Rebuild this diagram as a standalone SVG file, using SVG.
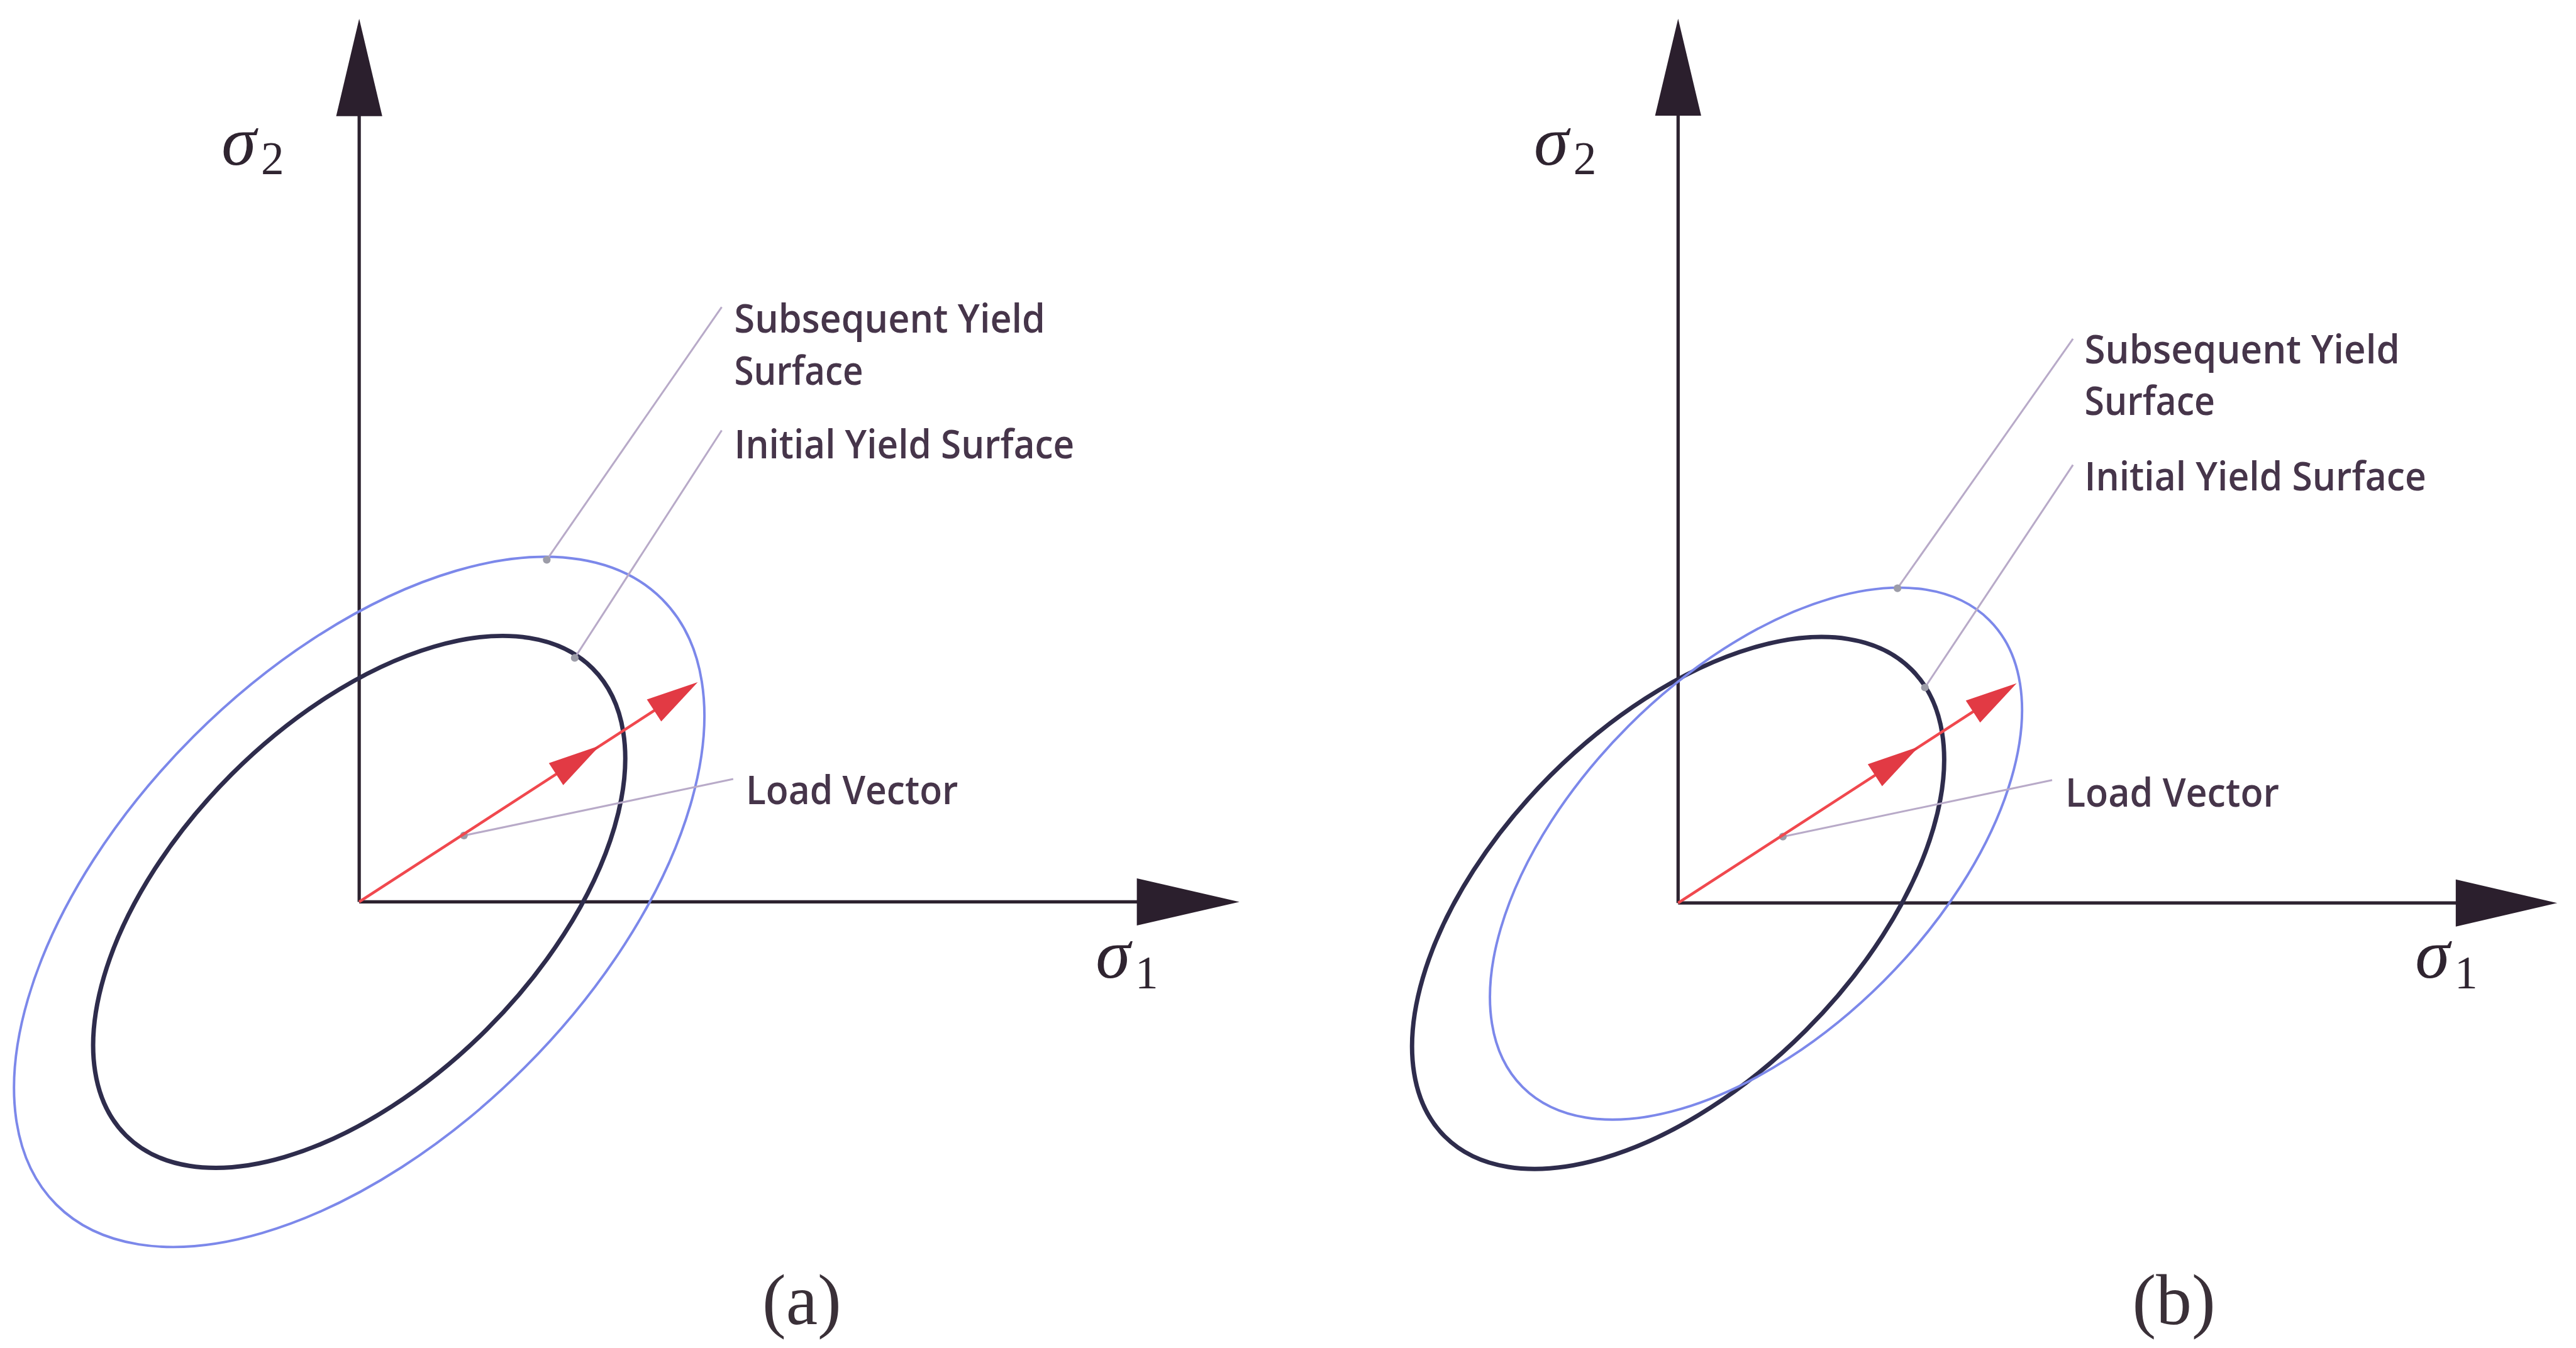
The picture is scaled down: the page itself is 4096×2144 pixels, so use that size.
<svg xmlns="http://www.w3.org/2000/svg" xmlns:xlink="http://www.w3.org/1999/xlink" width="4096" height="2144" viewBox="0 0 4096 2144">
<style>
.axis{stroke:#2d2330;stroke-width:6;fill:none}
.axhead{fill:#2b1f2d}
.init{stroke:#2e2c4c;stroke-width:8;fill:none}
.subs{stroke:#7c88ea;stroke-width:4.5;fill:none}
.load{stroke:#f0484e;stroke-width:5;fill:none}
.redhead{fill:#e23a44}
.leader{stroke:#b8aac8;stroke-width:3.5;fill:none}
.dot{fill:#9c9ca8}
.lbl{font-family:"Open Sans","Noto Sans","Liberation Sans",sans-serif;font-size:72px;font-weight:600;fill:#46354a}
.sig{font-family:"Liberation Serif","DejaVu Serif",serif;font-style:italic;font-size:128px;fill:#2f2430}
.sub{font-family:"Liberation Serif","DejaVu Serif",serif;font-size:84px;fill:#2f2430}
.cap{font-family:"Liberation Serif","DejaVu Serif",serif;font-size:130px;fill:#3a3038;text-anchor:middle}
</style>
<defs>
<polygon id="rh" points="0,0 -95,-24 -95,24"/>
</defs>
<rect width="4096" height="2144" fill="#ffffff"/>
<g transform="scale(0.872)">
  <g id="panel-a">
    <g id="axes-a">
      <line class="axis" x1="655" y1="1645" x2="655" y2="200"/>
      <polygon class="axhead" points="655,34 613,212 697,212"/>
      <line class="axis" x1="655" y1="1645" x2="2085" y2="1645"/>
      <polygon class="axhead" points="2260,1645 2073,1602 2073,1688"/>
      <text class="sig" x="404" y="300">σ</text><text class="sub" x="476" y="318">2</text>
      <text class="sig" x="1998" y="1783">σ</text><text class="sub" x="2070" y="1803">1</text>
    </g>
    <g id="initial-a">
      <ellipse class="init" cx="655" cy="1645" rx="602" ry="329" transform="rotate(-45 655 1645)"/>
    </g>
    <g id="subsequent-a">
      <ellipse class="subs" cx="655" cy="1645" rx="781" ry="427" transform="rotate(-45 655 1645)"/>
    </g>
    <g id="connectors-a">
      <line class="leader" x1="997" y1="1021" x2="1316" y2="560"/>
      <line class="leader" x1="1048" y1="1200" x2="1316" y2="785"/>
      <line class="leader" x1="846" y1="1524" x2="1337" y2="1421"/>
      <circle class="dot" cx="997" cy="1021" r="7"/>
      <circle class="dot" cx="1048" cy="1200" r="7"/>
      <circle class="dot" cx="846" cy="1524" r="7"/>
    </g>
    <g id="loadvector-a">
      <line class="load" x1="655" y1="1645" x2="1250" y2="1259"/>
      <use xlink:href="#rh" class="redhead" transform="translate(1093.6 1360.2) rotate(-33)"/>
      <use xlink:href="#rh" class="redhead" transform="translate(1272.3 1244.2) rotate(-33)"/>
    </g>
    <g id="labels-a">
      <text class="lbl" x="1339" y="607" textLength="567" lengthAdjust="spacingAndGlyphs">Subsequent Yield</text>
      <text class="lbl" x="1339" y="702" textLength="235" lengthAdjust="spacingAndGlyphs">Surface</text>
      <text class="lbl" x="1339" y="836" textLength="620" lengthAdjust="spacingAndGlyphs">Initial Yield Surface</text>
      <text class="lbl" x="1360" y="1467" textLength="387" lengthAdjust="spacingAndGlyphs">Load Vector</text>
    </g>
    <text id="caption-a" class="cap" x="1462" y="2415">(a)</text>
  </g>
  <g id="panel-b">
    <g id="axes-b">
      <line class="axis" x1="3060" y1="1647" x2="3060" y2="200"/>
      <polygon class="axhead" points="3060,34 3018,211 3102,211"/>
      <line class="axis" x1="3060" y1="1647" x2="4490" y2="1647"/>
      <polygon class="axhead" points="4663,1647 4478,1604 4478,1690"/>
      <text class="sig" x="2797" y="300">σ</text><text class="sub" x="2869" y="318">2</text>
      <text class="sig" x="4404" y="1783">σ</text><text class="sub" x="4476" y="1803">1</text>
    </g>
    <g id="initial-b">
      <ellipse class="init" cx="3060" cy="1647" rx="602" ry="329" transform="rotate(-45 3060 1647)"/>
    </g>
    <g id="subsequent-b">
      <ellipse class="subs" cx="3202" cy="1557" rx="602" ry="329" transform="rotate(-45 3202 1557)"/>
    </g>
    <g id="connectors-b">
      <line class="leader" x1="3460" y1="1073" x2="3780" y2="618"/>
      <line class="leader" x1="3510" y1="1254" x2="3780" y2="848"/>
      <line class="leader" x1="3251" y1="1526" x2="3742" y2="1423"/>
      <circle class="dot" cx="3460" cy="1073" r="7"/>
      <circle class="dot" cx="3510" cy="1254" r="7"/>
      <circle class="dot" cx="3251" cy="1526" r="7"/>
    </g>
    <g id="loadvector-b">
      <line class="load" x1="3060" y1="1647" x2="3655" y2="1261"/>
      <use xlink:href="#rh" class="redhead" transform="translate(3498.6 1362.2) rotate(-33)"/>
      <use xlink:href="#rh" class="redhead" transform="translate(3677.3 1246.2) rotate(-33)"/>
    </g>
    <g id="labels-b">
      <text class="lbl" x="3801" y="663" textLength="575" lengthAdjust="spacingAndGlyphs">Subsequent Yield</text>
      <text class="lbl" x="3801" y="757" textLength="238" lengthAdjust="spacingAndGlyphs">Surface</text>
      <text class="lbl" x="3801" y="895" textLength="623" lengthAdjust="spacingAndGlyphs">Initial Yield Surface</text>
      <text class="lbl" x="3766" y="1471" textLength="390" lengthAdjust="spacingAndGlyphs">Load Vector</text>
    </g>
    <text id="caption-b" class="cap" x="3964" y="2415">(b)</text>
  </g>
</g>
</svg>
